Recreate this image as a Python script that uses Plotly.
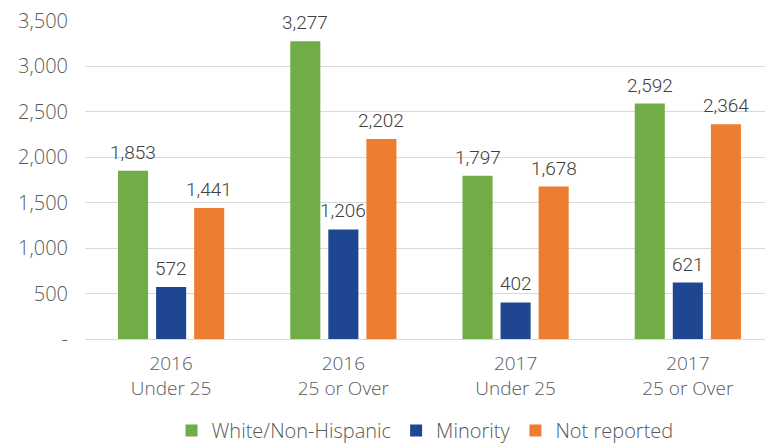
import plotly.graph_objects as go

# Enrollment counts by group
categories = ["2016<br>Under 25", "2016<br>25 or Over", "2017<br>Under 25", "2017<br>25 or Over"]
white_non_hispanic = [1853, 3277, 1797, 2592]
minority = [572, 1206, 402, 621]
not_reported = [1441, 2202, 1678, 2364]

series_names = ["White/Non-Hispanic", "Minority", "Not reported"]
series_values = [white_non_hispanic, minority, not_reported]
series_colors = ["#70AD47", "#1F4690", "#ED7D31"]

y_tick_vals = [0, 500, 1000, 1500, 2000, 2500, 3000, 3500]
y_tick_text = ["-", "500", "1,000", "1,500", "2,000", "2,500", "3,000", "3,500"]

text_color = "#595959"
family = "Open Sans, sans-serif"
ytick_font = dict(size=20, color=text_color, family=family, weight=300)
xtick_font = dict(size=19, color=text_color, family=family, weight=300)
legend_font = dict(size=20, color=text_color, family=family, weight=300)
label_font = dict(size=19, color="#404040", family="Roboto, sans-serif", weight=300)

fig = go.Figure()
for name, vals, color in zip(series_names, series_values, series_colors):
    fig.add_trace(go.Bar(
        x=list(range(len(categories))),
        y=vals,
        name=name,
        marker=dict(color=color, line=dict(width=0)),
    ))

# value labels above each bar
offsets = [-38, 0, 38]
annotations = []
for vals, dx in zip(series_values, offsets):
    for i, v in enumerate(vals):
        annotations.append(dict(
            x=i, y=v, xref="x", yref="y",
            text=f"{v:,}", showarrow=False,
            xshift=dx, yshift=5, yanchor="bottom",
            font=label_font,
        ))

fig.update_layout(
    width=765, height=447,
    margin=dict(l=85, r=0, t=21, b=108, autoexpand=False),
    paper_bgcolor="white", plot_bgcolor="white",
    barmode="group", bargap=0.337, bargroupgap=0.21,
    showlegend=True,
    legend=dict(
        orientation="h", x=0.5, xanchor="center",
        y=-0.288, yanchor="middle",
        font=legend_font, itemwidth=30, tracegroupgap=0,
    ),
    annotations=annotations,
    font=legend_font,
)
fig.update_xaxes(
    tickmode="array", tickvals=list(range(len(categories))), ticktext=categories,
    range=[-0.5, 3.448], showgrid=False, showline=False, ticks="",
    ticklabelstandoff=11, tickfont=xtick_font, fixedrange=True, automargin=False,
)
fig.update_yaxes(
    range=[0, 3500], tickmode="array", tickvals=y_tick_vals, ticktext=y_tick_text,
    showgrid=True, gridcolor="#D9D9D9", gridwidth=1.3,
    zeroline=True, zerolinecolor="#D9D9D9", zerolinewidth=1.3,
    ticks="", ticklabelstandoff=16, tickfont=ytick_font, fixedrange=True, automargin=False,
)

fig.write_html("out.html")
